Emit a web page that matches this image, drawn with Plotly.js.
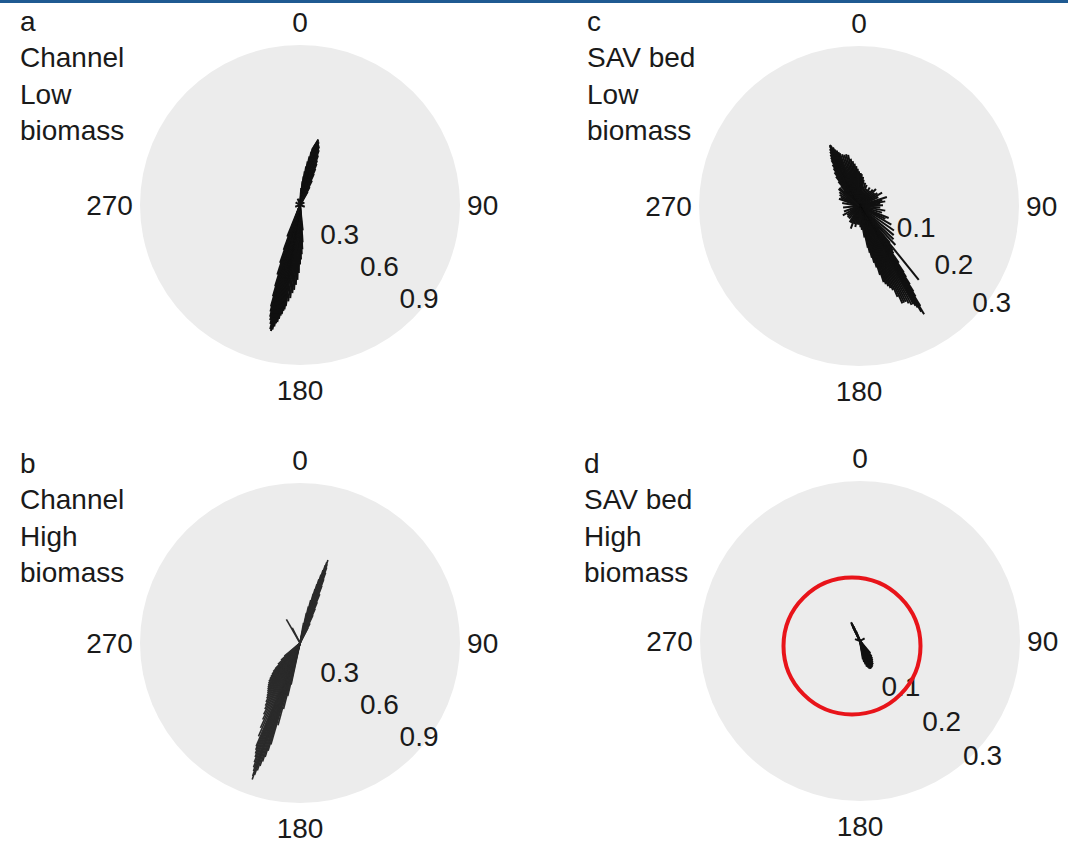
<!DOCTYPE html>
<html>
<head>
<meta charset="utf-8">
<script src="https://cdn.plot.ly/plotly-3.0.1.min.js"></script>
<style>html,body{margin:0;padding:0;background:#fff;}#chart{width:1068px;height:845px;}</style>
</head>
<body>
<div id="chart"></div>
<script>
// ---- data (direction in degrees clockwise from north, speed in m/s) ----
const channelLowDir = [4, 6, 7, 8, 9, 10, 11, 12, 12.5, 13, 13.5, 14, 14.5, 15, 15.5, 16, 16.5, 17, 17.5, 18, 19, 20, 21, 22, 23, 24, 26, 28, 30,
  174, 176, 177, 178, 179, 180, 181, 182, 183, 184, 185, 186, 187, 188, 188.5, 189, 189.5, 190, 190.5, 191, 191.5, 192, 192.5, 193,
  193.5, 194, 194.5, 195, 195.5, 196, 196.5, 197, 198, 199, 200, 202,
  60, 110, 250, 300, 340];
const channelLowSpd = [0.10, 0.14, 0.17, 0.20, 0.23, 0.26, 0.29, 0.32, 0.34, 0.35, 0.36, 0.37, 0.38, 0.39, 0.40, 0.39, 0.385, 0.37, 0.365, 0.36, 0.34, 0.31, 0.28, 0.26, 0.23, 0.20, 0.16, 0.12, 0.09,
  0.15, 0.22, 0.26, 0.29, 0.32, 0.35, 0.40, 0.44, 0.47, 0.50, 0.52, 0.55, 0.57, 0.60, 0.62, 0.63, 0.65, 0.66, 0.68, 0.70, 0.71, 0.73, 0.75, 0.76,
  0.75, 0.72, 0.70, 0.68, 0.65, 0.62, 0.56, 0.50, 0.43, 0.36, 0.28, 0.20,
  0.03, 0.03, 0.03, 0.03, 0.04];

const channelHighDir = [10, 12, 13, 14, 15, 15.5, 16, 16.5, 17, 17.5, 18, 18.3, 18.6, 19, 19.5, 20, 20.5, 21, 22, 23, 24, 25, 27, 28,
  330, 333,
  192, 193, 194, 195, 196, 196.5, 197, 197.5, 198, 198.5, 199, 199.3, 199.6, 200, 200.5, 201, 201.5, 202, 202.5, 203, 204, 205, 206,
  207, 208, 209, 210, 211, 212, 213, 214, 215, 216, 217, 218, 219, 220, 221, 222, 223, 224, 226, 228, 230];
const channelHighSpd = [0.12, 0.18, 0.22, 0.26, 0.30, 0.33, 0.36, 0.39, 0.42, 0.45, 0.48, 0.50, 0.515, 0.49, 0.47, 0.44, 0.40, 0.36, 0.31, 0.26, 0.22, 0.18, 0.13, 0.10,
  0.16, 0.10,
  0.25, 0.32, 0.40, 0.50, 0.62, 0.66, 0.70, 0.73, 0.76, 0.79, 0.82, 0.85, 0.83, 0.80, 0.78, 0.75, 0.72, 0.70, 0.68, 0.66, 0.60, 0.55, 0.50,
  0.47, 0.44, 0.42, 0.40, 0.38, 0.365, 0.35, 0.34, 0.33, 0.32, 0.31, 0.30, 0.29, 0.275, 0.26, 0.245, 0.23, 0.21, 0.18, 0.15, 0.12];

const savLowDir = [316, 318, 320, 322, 324, 326, 327.5, 329, 330, 331, 332, 333, 334, 334.5, 335, 336, 337, 338, 339, 340, 342, 344, 346, 348,
  350, 352, 354, 356, 358, 0, 3, 5, 8, 10,
  15, 20, 25, 30, 35, 40, 45, 50, 55, 60, 65, 72, 76, 80, 84, 88, 94, 100, 106, 112, 116, 120, 125, 130, 134, 137, 141,
  140, 142, 143, 144, 145, 146, 146.5, 147, 147.5, 148, 148.5, 149, 149.5, 150, 150.5, 151, 152, 153, 154, 155, 156, 157, 158, 159,
  160, 161, 162, 163, 164, 165, 166, 167, 168, 170, 173,
  176, 180, 185, 190, 195, 200, 205, 210, 218, 225, 232, 240, 250, 265, 280, 290, 295, 300, 305, 310, 313];
const savLowSpd = [0.04, 0.05, 0.06, 0.07, 0.078, 0.085, 0.092, 0.10, 0.105, 0.11, 0.115, 0.12, 0.125, 0.127, 0.125, 0.12, 0.115, 0.112, 0.108, 0.105, 0.102, 0.10, 0.10, 0.098,
  0.09, 0.085, 0.08, 0.075, 0.07, 0.065, 0.062, 0.06, 0.055, 0.05,
  0.045, 0.042, 0.035, 0.04, 0.035, 0.04, 0.045, 0.038, 0.042, 0.05, 0.04, 0.055, 0.045, 0.05, 0.04, 0.045, 0.04, 0.05, 0.045, 0.06, 0.055, 0.07, 0.08, 0.085, 0.09, 0.10, 0.178,
  0.09, 0.10, 0.105, 0.11, 0.13, 0.15, 0.16, 0.175, 0.19, 0.20, 0.22, 0.237, 0.23, 0.22, 0.215, 0.21, 0.21, 0.205, 0.20, 0.20, 0.20, 0.185, 0.17, 0.165,
  0.16, 0.155, 0.15, 0.135, 0.12, 0.11, 0.10, 0.09, 0.08, 0.06, 0.045,
  0.04, 0.035, 0.035, 0.04, 0.035, 0.045, 0.035, 0.035, 0.03, 0.03, 0.028, 0.035, 0.03, 0.03, 0.032, 0.04, 0.038, 0.042, 0.045, 0.05, 0.05];

const savHighDir = [333, 334, 334.5, 335, 336, 338, 60, 290,
  140, 143, 145, 147, 149, 151, 153, 155, 157, 159, 161, 163, 165, 167, 169, 171];
const savHighSpd = [0.03, 0.036, 0.039, 0.037, 0.03, 0.02, 0.01, 0.01,
  0.03, 0.036, 0.04, 0.043, 0.046, 0.05, 0.052, 0.054, 0.055, 0.056, 0.055, 0.052, 0.05, 0.045, 0.04, 0.035];

const angleTicks = [0, 90, 180, 270];
const angleTickText = ['0', '90', '180', '270'];
const channelTicks = [0.3, 0.6, 0.9];
const savTicks = [0.1, 0.2, 0.3];
const panelTitles = ['a<br>Channel<br>Low<br>biomass', 'b<br>Channel<br>High<br>biomass',
  'c<br>SAV bed<br>Low<br>biomass', 'd<br>SAV bed<br>High<br>biomass'];

// ---- build ----
const W = 1068, H = 845;
const FONT = 'Liberation Sans, Arial, Helvetica, sans-serif';
const TXT = '#1a1a1a';

function vectors(dirs, spds, subplot, color, width) {
  const r = [], theta = [];
  for (let i = 0; i < dirs.length; i++) {
    r.push(0, spds[i], null);
    theta.push(dirs[i], dirs[i], null);
  }
  return {type: 'scatterpolar', mode: 'lines', r: r, theta: theta, subplot: subplot,
    line: {color: color, width: width}, hoverinfo: 'skip', showlegend: false};
}

// radial tick labels, placed on the library's radial scale along one bearing
function radialLabels(ticks, bearing, pos, subplot) {
  return {type: 'scatterpolar', mode: 'text', r: ticks, theta: ticks.map(() => bearing),
    text: ticks.map(v => String(v)), textposition: pos, cliponaxis: false, subplot: subplot,
    textfont: {family: FONT, size: 28, color: TXT}, hoverinfo: 'skip', showlegend: false};
}

function dom(cx, cy, rad) {
  return {x: [(cx - rad) / W, (cx + rad) / W], y: [1 - (cy + rad) / H, 1 - (cy - rad) / H]};
}

function polar(d, range) {
  return {
    domain: d,
    bgcolor: '#ececec',
    angularaxis: {rotation: 90, direction: 'clockwise', tickmode: 'array', tickvals: angleTicks, ticktext: angleTickText,
      showgrid: false, showline: false, ticks: 'outside', ticklen: 1, tickcolor: 'rgba(0,0,0,0)',
      tickfont: {family: FONT, size: 28, color: TXT}},
    radialaxis: {range: range, showgrid: false, showline: false, ticks: '', showticklabels: false}
  };
}

const R = 160;
const data = [
  vectors(channelLowDir, channelLowSpd, 'polar', '#111', 2),
  vectors(channelHighDir, channelHighSpd, 'polar2', '#2b2b2b', 1.6),
  vectors(savLowDir, savLowSpd, 'polar3', '#111', 2),
  vectors(savHighDir, savHighSpd, 'polar4', '#111', 2),
  radialLabels(channelTicks, 129, 'middle center', 'polar'),
  radialLabels(channelTicks, 129, 'middle center', 'polar2'),
  radialLabels(savTicks, 135, 'top right', 'polar3'),
  radialLabels(savTicks, 130, 'bottom center', 'polar4')
];

function title(txt, xpx, ypx) {
  return {text: txt, xref: 'paper', yref: 'paper', x: xpx / W, y: 1 - ypx / H, xanchor: 'left', yanchor: 'top',
    align: 'left', showarrow: false, font: {family: FONT, size: 28, color: TXT}};
}

const layout = {
  width: W, height: H,
  margin: {l: 0, r: 0, t: 0, b: 0},
  paper_bgcolor: '#fff',
  showlegend: false,
  polar: polar(dom(300, 205, R), [0, 0.94]),
  polar2: polar(dom(300, 643, R), [0, 0.94]),
  polar3: polar(dom(859, 206, R), [0, 0.3]),
  polar4: polar(dom(860, 641, R), [0, 0.3]),
  annotations: [
    title(panelTitles[0], 18, 4),
    title(panelTitles[1], 18, 446),
    title(panelTitles[2], 585, 4),
    title(panelTitles[3], 582, 446)
  ],
  shapes: [
    {type: 'rect', xref: 'paper', yref: 'paper', x0: 0, x1: 1, y0: 1 - 3 / H, y1: 1, fillcolor: '#1f5a92', line: {width: 0}},
    {type: 'circle', xref: 'paper', yref: 'paper', x0: 783.5 / W, x1: 920.5 / W, y0: 1 - 714.5 / H, y1: 1 - 577.5 / H,
      line: {color: 'rgb(232,20,26)', width: 4}}
  ]
};

Plotly.newPlot('chart', data, layout, {displayModeBar: false, staticPlot: true});
</script>
</body>
</html>
